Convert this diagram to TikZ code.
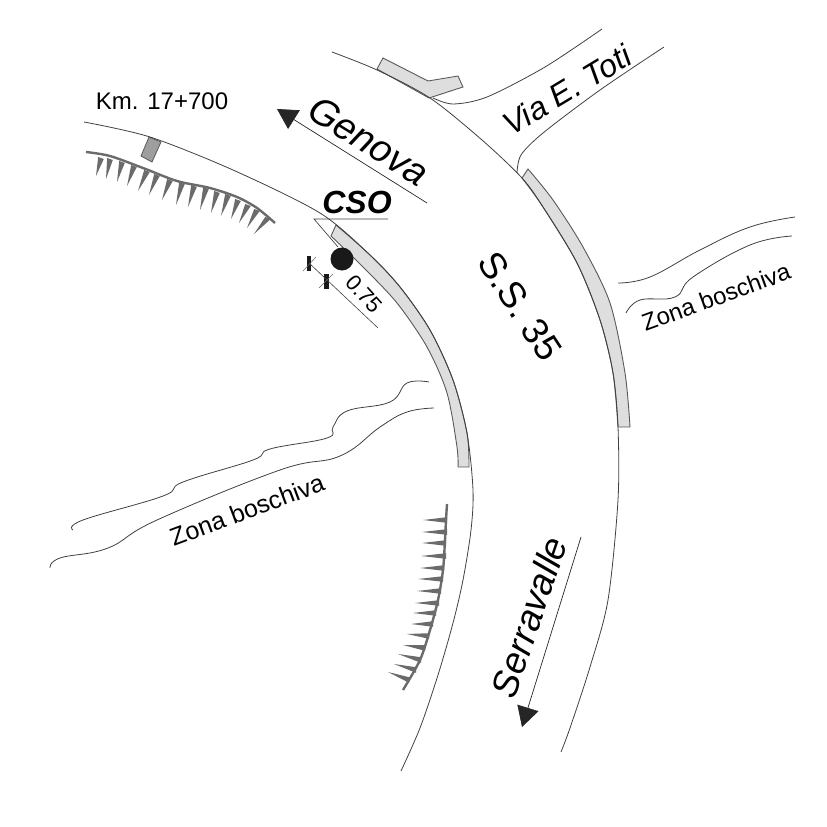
\documentclass[tikz,border=0pt]{standalone}
\usepackage{fontspec}
\setmainfont{Liberation Sans}
\usetikzlibrary{arrows.meta}
\tikzset{
	road/.style={line width=0.8pt, draw=black!75},
	strip/.style={line width=0.9pt, draw=black!65, fill=black!13},
	hachure/.style={fill=black!58, draw=none},
	spine/.style={line width=2.4pt, draw=black!58},
	label/.style={text=black, inner sep=0pt}
}
\begin{document}
\begin{tikzpicture}[x=1pt, y=-1pt]
	\useasboundingbox (0, 0) rectangle (827, 827);
	% grey strips
	\draw [strip] (383, 58) -- (428, 81) -- (458, 76) -- (463, 87) -- (429, 98) -- (377, 69) -- cycle;
	\draw [strip] plot [smooth] coordinates {(336, 225) (370, 255) (400, 287) (430, 330) (453, 380) (467, 433) (469, 467)} -- plot [smooth] coordinates {(458, 467) (457, 447) (447, 393) (427, 347) (397, 303) (363, 267) (331, 236)} -- cycle;
	\draw [strip] plot [smooth] coordinates {(528, 169) (553, 200) (583, 247) (610, 303) (625, 373) (630, 427)} -- plot [smooth] coordinates {(618, 427) (613, 373) (600, 320) (577, 263) (543, 207) (522, 178)} -- cycle;
	\draw [line width=0.8pt, draw=black!65, fill=black!38] (149, 137) -- (161, 142) -- (152, 162) -- (141, 156) -- cycle;
	% road edges
	\draw [road] plot [smooth] coordinates {(84, 122) (150, 137) (233, 170) (320, 213) (370, 255) (400, 287) (430, 330) (453, 380) (467, 433) (473, 490) (471, 530) (463, 580) (453, 623) (438, 675) (420, 728) (401, 771)};
	\draw [road] plot [smooth] coordinates {(332, 52) (377, 70) (430, 98) (482, 140) (522, 178) (543, 207) (577, 263) (600, 320) (613, 373) (618, 427) (618, 500) (608, 600) (590, 667) (570, 728) (561, 752)};
	% via toti
	\draw [road] plot [smooth] coordinates {(433, 98) (453, 104) (487, 97) (545, 67) (602, 29)};
	\draw [road] plot [smooth] coordinates {(517, 173) (521, 155) (543, 133) (600, 90) (664, 47)};
	% zona boschiva
	\draw [road] plot [smooth, tension=0.7] coordinates {(73, 530) (83, 520) (163, 496) (183, 482) (253, 460) (270, 449) (327, 438) (333, 427) (347, 411) (390, 402) (407, 383) (429, 382)};
	\draw [road] plot [smooth, tension=0.7] coordinates {(50, 568) (60, 558) (108, 548) (157, 520) (280, 470) (340, 456) (380, 427) (407, 412) (434, 408)};
	\draw [road] plot [smooth, tension=0.7] coordinates {(618, 283) (650, 277) (700, 250) (750, 227) (795, 217)};
	\draw [road] plot [smooth, tension=0.7] coordinates {(626, 313) (640, 300) (675, 297) (693, 277) (750, 245) (792, 236)};
	% hachures
	\draw [spine] plot [smooth] coordinates {(86, 152) (110, 156) (143, 168) (177, 181) (210, 188) (237, 197) (257, 208) (275, 223)};
	\foreach \bx/\by/\tx/\ty in {101/158/96/176, 110/159/106/179, 122/162/117/182, 134/166/127/186, 147/171/138/191, 157/175/149/195, 170/180/162/200, 182/183/176/205, 194/186/188/207, 206/188/200/210, 217/192/211/213, 228/195/221/216, 238/200/231/219, 248/205/239/223, 257/210/247/228, 268/218/254/234}
		\fill [hachure] (\bx - 2.8, \by - 1) -- (\tx, \ty) -- (\bx + 2.8, \by + 1) -- cycle;
	\draw [spine] plot [smooth] coordinates {(447, 504) (446, 520) (445, 540) (443, 570) (438, 600) (430, 630) (420, 660) (403, 690)};
	\foreach \bx/\by/\tx/\ty in {446/520/423/520, 446/532/422/532, 445/543/422/543, 445/556/421/556, 443/568/420/568, 442/579/418/579, 440/591/417/591, 438/603/415/603, 435/613/413/613, 432/624/411/624, 428/636/407/634, 424/648/403/645, 420/660/398/654, 415/670/394/664, 408/680/388/672}
		\fill [hachure] (\bx + 1, \by - 2.8) -- (\tx, \ty) -- (\bx + 1, \by + 2.8) -- cycle;
	% arrows
	\coordinate (genovaend) at (427, 203);
	\coordinate (genovatip) at (277, 109);
	\coordinate (serraend) at (581, 537);
	\coordinate (serratip) at (522, 727);
	\draw [-{Triangle[length=20pt, width=22pt]}, line width=0.7pt, black!85] (genovaend) -- (genovatip);
	\draw [-{Triangle[length=20pt, width=22pt]}, line width=0.7pt, black!85] (serraend) -- (serratip);
	% cso
	\node at (357, 202) [label, font=\fontsize{32}{32}\selectfont\bfseries\itshape] (cso) {CSO};
	\coordinate (csoleft) at (314, 219);
	\coordinate (csoright) at (388, 219);
	\node at (342, 259) [circle, fill=black!90, minimum size=23pt, inner sep=0pt] (dot) {};
	\coordinate (dotleader) at (338, 247);
	\draw [line width=0.7pt, black!75] (csoright) -- (csoleft) -- (dotleader);
	% ticks
	\node at (309, 263) [rectangle, fill=black!90, minimum width=4pt, minimum height=15pt, inner sep=0pt] (tick1) {};
	\node at (326, 281) [rectangle, fill=black!90, minimum width=5pt, minimum height=15pt, inner sep=0pt] (tick2) {};
	\coordinate (dimend) at (378, 328);
	\draw [line width=0.6pt, black!75] (tick1.center) -- (dimend);
	\draw [line width=0.5pt, black!60] (303, 271) -- (316, 257);
	\draw [line width=0.5pt, black!60] (319, 288) -- (333, 274);
	% labels
	\node at (162, 101) [label, font=\fontsize{24}{24}\selectfont] (km) {Km. 17+700};
	\node at (369, 141) [label, rotate=-32, font=\fontsize{38}{38}\selectfont\itshape] (genova) {Genova};
	\node at (567, 90) [label, rotate=31, font=\fontsize{32}{32}\selectfont\itshape] (toti) {Via E. Toti};
	\node at (520, 306) [label, rotate=-57, font=\fontsize{37}{37}\selectfont] (ss35) {S.S. 35};
	\node at (529, 617) [label, rotate=71, font=\fontsize{37}{37}\selectfont\itshape] (serravalle) {Serravalle};
	\node at (364, 294) [label, rotate=-48, font=\fontsize{22}{22}\selectfont] (dim) {0.75};
	\node at (247, 510) [label, rotate=20.5, font=\fontsize{25}{25}\selectfont] (zona1) {Zona boschiva};
	\node at (716, 297) [label, rotate=20, font=\fontsize{24}{24}\selectfont] (zona2) {Zona boschiva};
\end{tikzpicture}
\end{document}
